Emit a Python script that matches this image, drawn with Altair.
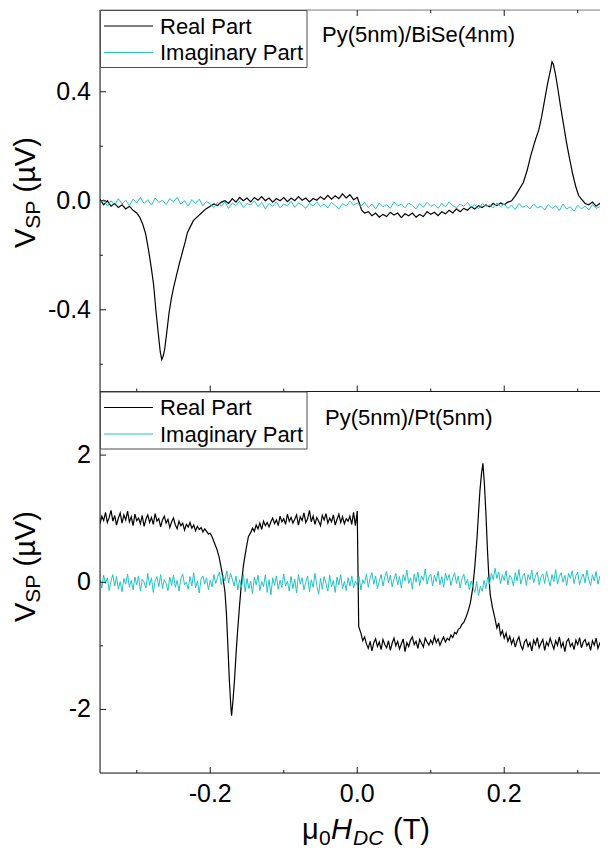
import altair as alt
import pandas as pd

# ---------------- data ----------------
# field positions (T) of the evenly sampled imaginary traces
GRID_X = [round(-0.35 + 0.005 * i, 4) for i in range(141)]
GRID_X_FINE = [round(-0.35 + 0.0025 * i, 4) for i in range(281)]

# Py(5nm)/BiSe(4nm) real part: (field T, V_SP uV)
TOP_REAL = [
    (-0.35, 0.005), (-0.345, -0.015), (-0.34, 0.0), (-0.335, -0.02), (-0.33, -0.01),
    (-0.325, -0.025), (-0.32, -0.015), (-0.315, -0.03), (-0.31, -0.02), (-0.305, -0.035),
    (-0.30, -0.045), (-0.296, -0.06), (-0.292, -0.085), (-0.288, -0.12), (-0.284, -0.18),
    (-0.28, -0.25), (-0.277, -0.31), (-0.274, -0.40), (-0.271, -0.48), (-0.268, -0.555),
    (-0.266, -0.583), (-0.264, -0.57), (-0.262, -0.545), (-0.259, -0.48), (-0.256, -0.41),
    (-0.253, -0.36), (-0.25, -0.32), (-0.246, -0.275), (-0.242, -0.23), (-0.238, -0.19),
    (-0.234, -0.15), (-0.231, -0.116), (-0.227, -0.095), (-0.223, -0.073), (-0.218, -0.06),
    (-0.212, -0.045), (-0.206, -0.03), (-0.20, -0.02), (-0.195, -0.012), (-0.19, -0.018),
    (-0.185, -0.005), (-0.18, 0.0), (-0.175, -0.01), (-0.17, 0.008), (-0.165, -0.005),
    (-0.16, 0.012), (-0.155, 0.0), (-0.15, 0.01), (-0.145, -0.004), (-0.14, 0.012),
    (-0.135, 0.002), (-0.13, 0.015), (-0.125, 0.0), (-0.12, 0.01), (-0.115, -0.005),
    (-0.11, 0.008), (-0.105, 0.0), (-0.10, 0.012), (-0.095, -0.003), (-0.09, 0.01),
    (-0.085, 0.0), (-0.08, 0.015), (-0.075, 0.002), (-0.07, 0.01), (-0.065, -0.004),
    (-0.06, 0.008), (-0.055, 0.002), (-0.05, 0.015), (-0.045, 0.005), (-0.04, 0.02),
    (-0.035, 0.006), (-0.03, 0.018), (-0.025, 0.008), (-0.02, 0.025), (-0.015, 0.01),
    (-0.01, 0.022), (-0.005, 0.004), (0.0, 0.012), (0.003, -0.01), (0.006, -0.035),
    (0.01, -0.045), (0.015, -0.04), (0.02, -0.055), (0.025, -0.045), (0.03, -0.06),
    (0.035, -0.05), (0.04, -0.058), (0.045, -0.042), (0.05, -0.052), (0.055, -0.045),
    (0.06, -0.062), (0.065, -0.048), (0.07, -0.055), (0.075, -0.045), (0.08, -0.06),
    (0.085, -0.05), (0.09, -0.058), (0.095, -0.04), (0.10, -0.05), (0.105, -0.042),
    (0.11, -0.055), (0.115, -0.04), (0.12, -0.048), (0.125, -0.035), (0.13, -0.045),
    (0.135, -0.03), (0.14, -0.04), (0.145, -0.028), (0.15, -0.035), (0.155, -0.022),
    (0.16, -0.03), (0.165, -0.018), (0.17, -0.025), (0.175, -0.015), (0.18, -0.022),
    (0.185, -0.01), (0.19, -0.018), (0.195, -0.008), (0.20, -0.015), (0.205, -0.005),
    (0.21, 0.0), (0.215, 0.018), (0.22, 0.04), (0.226, 0.067), (0.231, 0.11),
    (0.236, 0.165), (0.242, 0.22), (0.247, 0.26), (0.251, 0.31), (0.255, 0.37),
    (0.259, 0.43), (0.263, 0.48), (0.265, 0.51), (0.267, 0.50), (0.270, 0.46),
    (0.273, 0.41), (0.277, 0.34), (0.281, 0.275), (0.285, 0.21), (0.289, 0.153),
    (0.293, 0.10), (0.297, 0.055), (0.301, 0.02), (0.305, 0.006), (0.31, -0.01),
    (0.315, -0.015), (0.32, -0.005), (0.325, -0.02), (0.33, -0.01), (0.335, -0.025),
    (0.34, -0.012), (0.345, -0.02), (0.35, -0.015),
]

# Py(5nm)/BiSe(4nm) imaginary part on GRID_X
TOP_IMAG = [
    -0.01, 0.005, -0.02, 0.0, -0.015, 0.008, -0.012, 0.002, -0.018, 0.006,
    -0.008, 0.012, -0.01, 0.004, -0.016, 0.01, -0.006, 0.002, -0.014, 0.008,
    -0.004, 0.012, -0.012, 0.0, -0.02, 0.004, -0.01, 0.006, -0.018, -0.002, -0.012,
    -0.024, -0.006, -0.02, -0.004, -0.028, -0.008, -0.018, -0.002, -0.025, -0.01,
    -0.016, 0.0, -0.022, -0.006, -0.03, -0.01, -0.02, -0.004, -0.026, -0.012,
    -0.018, -0.002, -0.024, -0.008, -0.016, -0.028, -0.01, -0.02, -0.004, -0.022,
    -0.012, -0.026, -0.006, -0.018, -0.03, -0.01, -0.02, -0.002, -0.016, -0.008,
    -0.02, -0.006, -0.025, -0.012, -0.03, -0.008, -0.022, -0.014, -0.028, -0.004,
    -0.02, -0.012, -0.026, -0.008, -0.018, -0.03, -0.01, -0.024, -0.006, -0.02,
    -0.014, -0.028, -0.01, -0.022, -0.004, -0.018, -0.026, -0.012, -0.02, -0.006,
    -0.024, -0.014, -0.03, -0.01, -0.02, -0.016, -0.026, -0.008, -0.022, -0.012,
    -0.028, -0.016, -0.032, -0.01, -0.024, -0.018, -0.03, -0.012, -0.026, -0.02,
    -0.034, -0.014, -0.028, -0.018, -0.036, -0.012, -0.03, -0.022, -0.038, -0.016,
    -0.03, -0.02, -0.034, -0.014, -0.028, -0.022, -0.036, -0.016, -0.03, -0.024,
]

# Py(5nm)/Pt(5nm) real part: (field T, V_SP uV)
BOT_REAL = [
    # positive plateau, left
    (-0.35, 0.92), (-0.3475, 1.04), (-0.345, 0.97), (-0.3425, 1.10), (-0.34, 0.94),
    (-0.3375, 1.02), (-0.335, 1.13), (-0.3325, 0.96), (-0.33, 1.05), (-0.3275, 0.90),
    (-0.325, 1.01), (-0.3225, 1.09), (-0.32, 0.93), (-0.3175, 1.06), (-0.315, 0.98),
    (-0.3125, 1.12), (-0.31, 0.95), (-0.3075, 1.03), (-0.305, 0.89), (-0.3025, 1.07),
    (-0.30, 0.97), (-0.2975, 1.01), (-0.295, 0.92), (-0.2925, 1.05), (-0.29, 0.88),
    (-0.2875, 0.99), (-0.285, 1.06), (-0.2825, 0.94), (-0.28, 1.02), (-0.2775, 0.91),
    (-0.275, 1.08), (-0.2725, 0.96), (-0.27, 1.00), (-0.2675, 0.87), (-0.265, 0.98),
    (-0.2625, 1.04), (-0.26, 0.93), (-0.2575, 0.99), (-0.255, 0.86), (-0.2525, 0.95),
    (-0.25, 1.01), (-0.2475, 0.90), (-0.245, 0.84), (-0.2425, 0.96), (-0.24, 0.89),
    (-0.2375, 0.93), (-0.235, 0.82), (-0.2325, 0.91), (-0.23, 0.87), (-0.2275, 0.94),
    (-0.225, 0.85), (-0.2225, 0.90), (-0.22, 0.81), (-0.2175, 0.88), (-0.215, 0.83),
    (-0.2125, 0.86), (-0.21, 0.79), (-0.2075, 0.84), (-0.205, 0.80), (-0.2025, 0.76),
    (-0.20, 0.77),
    # resonance dip
    (-0.197, 0.70), (-0.194, 0.61), (-0.191, 0.52), (-0.188, 0.40), (-0.185, 0.22),
    (-0.183, 0.09), (-0.18, -0.15), (-0.178, -0.49), (-0.176, -1.0), (-0.174, -1.54),
    (-0.172, -1.95), (-0.171, -2.1), (-0.169, -1.85), (-0.167, -1.54), (-0.165, -1.15),
    (-0.163, -0.80), (-0.16, -0.35), (-0.158, -0.07), (-0.155, 0.25), (-0.153, 0.40),
    (-0.15, 0.60), (-0.148, 0.72), (-0.145, 0.78), (-0.1425, 0.85), (-0.14, 0.80),
    (-0.1375, 0.90), (-0.135, 0.84), (-0.1325, 0.93), (-0.13, 0.83), (-0.1275, 0.96),
    (-0.125, 0.89), (-0.1225, 0.94),
    # positive plateau, right of the dip
    (-0.12, 0.87), (-0.1175, 0.95), (-0.115, 1.01), (-0.1125, 0.92), (-0.11, 0.98),
    (-0.1075, 0.89), (-0.105, 1.04), (-0.1025, 0.95), (-0.10, 1.00), (-0.0975, 0.91),
    (-0.095, 1.07), (-0.0925, 0.96), (-0.09, 1.02), (-0.0875, 0.93), (-0.085, 0.99),
    (-0.0825, 1.06), (-0.08, 0.90), (-0.0775, 1.03), (-0.075, 0.97), (-0.0725, 1.09),
    (-0.07, 0.94), (-0.0675, 1.00), (-0.065, 1.13), (-0.0625, 0.95), (-0.06, 1.04),
    (-0.0575, 0.91), (-0.055, 1.02), (-0.0525, 0.96), (-0.05, 0.89), (-0.0475, 1.05),
    (-0.045, 0.98), (-0.0425, 1.08), (-0.04, 0.93), (-0.0375, 1.01), (-0.035, 0.95),
    (-0.0325, 1.06), (-0.03, 0.90), (-0.0275, 0.99), (-0.025, 1.07), (-0.0225, 0.94),
    (-0.02, 1.03), (-0.0175, 0.92), (-0.015, 1.00), (-0.0125, 0.96), (-0.01, 1.04),
    (-0.0075, 0.91), (-0.005, 1.10), (-0.0025, 0.89), (0.0, 1.12), (0.001, 0.2),
    (0.002, -0.70),
    # negative plateau
    (0.005, -0.80), (0.0075, -0.92), (0.01, -0.86), (0.0125, -0.97), (0.015, -1.04),
    (0.0175, -0.93), (0.02, -1.08), (0.0225, -0.95), (0.025, -0.89), (0.0275, -1.01),
    (0.03, -0.94), (0.0325, -1.06), (0.035, -0.90), (0.0375, -0.98), (0.04, -1.03),
    (0.0425, -0.92), (0.045, -1.07), (0.0475, -0.96), (0.05, -0.88), (0.0525, -1.00),
    (0.055, -0.93), (0.0575, -1.05), (0.06, -0.97), (0.0625, -0.89), (0.065, -1.09),
    (0.0675, -0.95), (0.07, -1.01), (0.0725, -0.91), (0.075, -0.86), (0.0775, -0.98),
    (0.08, -0.93), (0.0825, -1.04), (0.085, -0.90), (0.0875, -0.96), (0.09, -1.02),
    (0.0925, -0.88), (0.095, -0.94), (0.0975, -0.99), (0.10, -0.91), (0.1025, -0.97),
    (0.105, -0.85), (0.1075, -0.95), (0.11, -0.89), (0.1125, -0.99), (0.115, -0.92),
    (0.1175, -0.86), (0.12, -0.94), (0.1225, -0.88), (0.125, -0.91), (0.1275, -0.83),
    (0.13, -0.87), (0.1325, -0.79), (0.135, -0.81), (0.1375, -0.74), (0.14, -0.72),
    (0.1425, -0.66), (0.145, -0.63),
    # resonance peak
    (0.148, -0.55), (0.151, -0.45), (0.154, -0.32), (0.157, -0.10), (0.160, 0.25),
    (0.163, 0.70), (0.165, 1.09), (0.167, 1.45), (0.169, 1.70), (0.171, 1.87),
    (0.173, 1.55), (0.175, 1.10), (0.177, 0.55), (0.179, 0.10), (0.181, -0.20),
    (0.184, -0.40), (0.187, -0.55),
    # negative plateau, right
    (0.19, -0.72), (0.1925, -0.64), (0.195, -0.83), (0.1975, -0.76), (0.20, -0.88),
    (0.2025, -0.80), (0.205, -0.93), (0.2075, -0.85), (0.21, -0.97), (0.2125, -0.89),
    (0.215, -1.02), (0.2175, -0.92), (0.22, -0.86), (0.2225, -0.99), (0.225, -1.06),
    (0.2275, -0.94), (0.23, -0.90), (0.2325, -1.01), (0.235, -0.95), (0.2375, -1.08),
    (0.24, -0.91), (0.2425, -0.98), (0.245, -0.87), (0.2475, -1.03), (0.25, -0.96),
    (0.2525, -0.90), (0.255, -1.07), (0.2575, -0.94), (0.26, -1.00), (0.2625, -0.88),
    (0.265, -0.97), (0.2675, -1.05), (0.27, -0.92), (0.2725, -0.99), (0.275, -0.86),
    (0.2775, -1.02), (0.28, -0.95), (0.2825, -1.09), (0.285, -0.93), (0.2875, -0.89),
    (0.29, -1.01), (0.2925, -0.96), (0.295, -1.06), (0.2975, -0.91), (0.30, -0.98),
    (0.3025, -0.87), (0.305, -1.03), (0.3075, -0.94), (0.31, -0.90), (0.3125, -1.00),
    (0.315, -0.95), (0.3175, -1.07), (0.32, -0.92), (0.3225, -0.99), (0.325, -0.88),
    (0.3275, -1.04), (0.33, -0.96), (0.3325, -1.01), (0.335, -0.93), (0.3375, -1.05),
    (0.34, -0.97), (0.3425, -0.90), (0.345, -1.02), (0.3475, -0.95), (0.35, -0.99),
]

# Py(5nm)/Pt(5nm) imaginary part on GRID_X_FINE
BOT_IMAG = [
    0.04, -0.09, 0.11, -0.02, 0.07, -0.13, 0.02, 0.12, -0.06, 0.09,
    -0.11, 0.01, -0.15, 0.06, -0.03, 0.13, -0.08, 0.03, -0.12, 0.08,
    -0.04, 0.10, -0.14, 0.05, 0.0, -0.09, 0.14, -0.05, 0.07, -0.16,
    0.02, 0.09, -0.07, 0.12, -0.10, 0.04, -0.02, -0.13, 0.08, -0.05,
    0.11, -0.08, 0.03, -0.14, 0.06, 0.13, -0.04, 0.0, -0.11, 0.09,
    -0.06, 0.15, -0.09, 0.02, -0.17, 0.05, 0.10, -0.03, 0.07, -0.12,
    0.03, -0.07, 0.12, -0.02, 0.08, 0.16, -0.04, 0.11, 0.02, 0.18,
    -0.01, 0.14, 0.05, -0.06, 0.10, -0.12, 0.04, -0.09, 0.13, -0.15,
    0.06, -0.10, 0.02, -0.18, 0.08, -0.04, 0.11, -0.13, 0.01, -0.07,
    0.12, -0.16, 0.04, -0.20, 0.07, -0.05, 0.10, -0.11, 0.03, -0.08,
    0.13, -0.06, 0.02, -0.14, 0.09, -0.10, 0.05, -0.17, 0.12, -0.03,
    0.07, -0.12, 0.0, 0.10, -0.15, 0.04, -0.08, 0.14, -0.05, -0.19,
    0.06, -0.11, 0.09, -0.02, -0.14, 0.11, -0.07, 0.03, -0.16, 0.08,
    -0.04, 0.12, -0.10, 0.01, -0.13, 0.07, -0.06, 0.10, -0.09, 0.02,
    -0.05, 0.09, -0.12, 0.04, -0.02, 0.13, -0.08, 0.06, 0.15, -0.03,
    0.10, -0.10, 0.02, 0.12, -0.06, 0.08, 0.17, -0.01, 0.11, -0.07,
    0.05, 0.14, -0.04, 0.09, -0.09, 0.12, 0.02, 0.19, -0.02, 0.07,
    -0.11, 0.13, 0.0, 0.16, -0.05, 0.10, 0.03, 0.21, -0.03, 0.08,
    0.13, -0.06, 0.11, 0.01, 0.17, -0.04, 0.09, -0.08, 0.14, 0.03,
    0.12, -0.05, 0.07, 0.15, -0.02, 0.10, -0.09, 0.06, 0.13, -0.04,
    0.05, -0.12, 0.02, -0.08, -0.16, 0.01, -0.21, -0.06, -0.14, 0.03,
    -0.10, 0.08, -0.03, 0.14, 0.04, 0.22, 0.06, 0.16, -0.02, 0.12,
    0.03, 0.18, -0.04, 0.11, 0.07, -0.06, 0.15, 0.02, 0.20, -0.03,
    0.09, 0.14, -0.05, 0.12, 0.04, 0.19, -0.01, 0.10, 0.16, -0.04,
    0.08, 0.13, -0.02, 0.17, 0.05, -0.06, 0.12, 0.01, 0.20, -0.03,
    0.09, 0.15, 0.0, 0.11, -0.05, 0.14, 0.06, 0.18, -0.02, 0.10,
    0.16, -0.04, 0.07, 0.13, -0.01, 0.19, 0.04, -0.05, 0.12, 0.02,
    0.17, -0.03, 0.09, 0.14, 0.0, 0.11, -0.06, 0.15, 0.05, 0.10,
    0.02,
]

SERIES_NAMES = ["Real Part", "Imaginary Part"]
PANEL_LABELS = ["Py(5nm)/BiSe(4nm)", "Py(5nm)/Pt(5nm)"]

X_MAJOR = [-0.2, 0.0, 0.2]
X_MAJOR_LABELS = ["-0.2", "0.0", "0.2"]
X_MINOR = [-0.3, -0.1, 0.1, 0.3]
YT_MAJOR = [-0.4, 0.0, 0.4]
YT_MAJOR_LABELS = ["-0.4", "0.0", "0.4"]
YT_MINOR = [-0.6, -0.2, 0.2, 0.6]
YB_MAJOR = [-2, 0, 2]
YB_MAJOR_LABELS = ["-2", "0", "2"]
YB_MINOR = [-1, 1]

# ---------------- styling / layout ----------------
W = 500          # plot runs to the right edge of the page (the reference is cut there)
H = 763
MID = 381.5
FONT = "Liberation Sans"
AX = "#1a1a1a"
REAL_C = "#000000"
IMAG_C = "#22c4c4"

XS = alt.Scale(domain=[-0.35, 0.3303], nice=False, zero=False)
YT = alt.Scale(domain=[-0.7, 0.7], range=[MID, 0], nice=False, zero=False)
YB = alt.Scale(domain=[-3, 3], range=[H, MID], nice=False, zero=False)

ONE = pd.DataFrame({"k": [0]})


def line_layer(xs, ys, scale, color, width):
    df = pd.DataFrame({"x": xs, "v": ys})
    return alt.Chart(df).mark_line(color=color, strokeWidth=width, clip=True).encode(
        x=alt.X("x:Q", scale=XS, axis=None),
        y=alt.Y("v:Q", scale=scale, axis=None),
        order="x:Q",
    )


def vrule(x0, x1, y0, y1, color=AX, width=1.0):
    return alt.Chart(ONE).mark_rule(color=color, strokeWidth=width).encode(
        x=alt.value(x0), x2=alt.value(x1), y=alt.value(y0), y2=alt.value(y1)
    )


def xticks(vals, y0, y1):
    return alt.Chart(pd.DataFrame({"t": vals})).mark_rule(color=AX, strokeWidth=1).encode(
        x=alt.X("t:Q", scale=XS, axis=None), y=alt.value(y0), y2=alt.value(y1)
    )


def yticks(vals, scale, length):
    return alt.Chart(pd.DataFrame({"v": vals})).mark_rule(color=AX, strokeWidth=1).encode(
        y=alt.Y("v:Q", scale=scale, axis=None), x=alt.value(0), x2=alt.value(length)
    )


def ylabels(vals, labs, scale):
    return alt.Chart(pd.DataFrame({"v": vals, "lab": labs})).mark_text(
        align="right", baseline="middle", font=FONT, fontSize=25, color="black"
    ).encode(y=alt.Y("v:Q", scale=scale, axis=None), x=alt.value(-9), text="lab:N")


def txt(s, x, y, size, angle=0, italic=False, align="left", baseline="alphabetic"):
    kw = dict(text=s, font=FONT, fontSize=size, color="black", align=align, baseline=baseline)
    if angle:
        kw["angle"] = angle
    if italic:
        kw["fontStyle"] = "italic"
    return alt.Chart(ONE).mark_text(**kw).encode(x=alt.value(x), y=alt.value(y))


def legend(top):
    box = alt.Chart(ONE).mark_rect(fill="white", stroke="#4d4d4d", strokeWidth=1).encode(
        x=alt.value(0.5), x2=alt.value(207), y=alt.value(top + 0.5), y2=alt.value(top + 57.5)
    )
    return [
        box,
        vrule(4, 53, top + 16, top + 16, REAL_C, 1.2),
        vrule(4, 53, top + 42.5, top + 42.5, IMAG_C, 1.2),
        txt(SERIES_NAMES[0], 60, top + 23.5, 22),
        txt(SERIES_NAMES[1], 60, top + 50, 22),
    ]


def ytitle(bottom):
    return [
        txt("V", -65, bottom, 29, angle=270),
        txt("SP", -60, bottom - 19.3, 21, angle=270),
        txt("(\u00b5V)", -65, bottom - 55.5, 29, angle=270),
    ]


layers = [
    # data
    line_layer([p[0] for p in TOP_REAL], [p[1] for p in TOP_REAL], YT, REAL_C, 1.2),
    line_layer(GRID_X, TOP_IMAG, YT, IMAG_C, 1.0),
    line_layer([p[0] for p in BOT_REAL], [p[1] for p in BOT_REAL], YB, REAL_C, 1.2),
    line_layer(GRID_X_FINE, BOT_IMAG, YB, IMAG_C, 1.0),
    # frame
    vrule(0, 0, 0, H),
    vrule(0, W, 0, 0, "#8a8a8a"),
    vrule(0, W, MID, MID),
    vrule(0, W, H, H),
    # x ticks (inward)
    xticks(X_MAJOR, 0, 6), xticks(X_MINOR, 0, 3),
    xticks(X_MAJOR, MID - 6, MID), xticks(X_MINOR, MID - 3, MID),
    xticks(X_MAJOR, H - 6, H), xticks(X_MINOR, H - 3, H),
    # y ticks (inward)
    yticks(YT_MAJOR, YT, 6), yticks(YT_MINOR, YT, 3),
    yticks(YB_MAJOR, YB, 6), yticks(YB_MINOR, YB, 3),
    # tick labels
    ylabels(YT_MAJOR, YT_MAJOR_LABELS, YT),
    ylabels(YB_MAJOR, YB_MAJOR_LABELS, YB),
    alt.Chart(pd.DataFrame({"t": X_MAJOR, "lab": X_MAJOR_LABELS})).mark_text(
        align="center", baseline="alphabetic", font=FONT, fontSize=25, color="black"
    ).encode(x=alt.X("t:Q", scale=XS, axis=None), y=alt.value(792), text="lab:N"),
    # panel annotations
    txt(PANEL_LABELS[0], 222, 31.5, 22),
    txt(PANEL_LABELS[1], 225, MID + 33.5, 22),
]
layers += legend(0)
layers += legend(MID)
layers += ytitle(238)
layers += ytitle(612)
# x title: mu_0 H_DC (T)
layers += [
    txt("\u03bc", 202, 829, 29),
    txt("0", 219, 835, 21),
    txt("H", 231, 829, 29, italic=True),
    txt("DC", 253, 835, 21, italic=True),
    txt("(T)", 293, 829, 29),
]

chart = (
    alt.layer(*layers)
    .resolve_scale(y="independent")
    .properties(
        width=W,
        height=H,
        autosize=alt.AutoSizeParams(type="none"),
        padding={"left": 92, "top": 2, "right": 0, "bottom": 75},
    )
    .configure_view(stroke=None)
    .configure(background="white")
)

chart.save("out.html", embed_options={"renderer": "svg", "actions": False})
